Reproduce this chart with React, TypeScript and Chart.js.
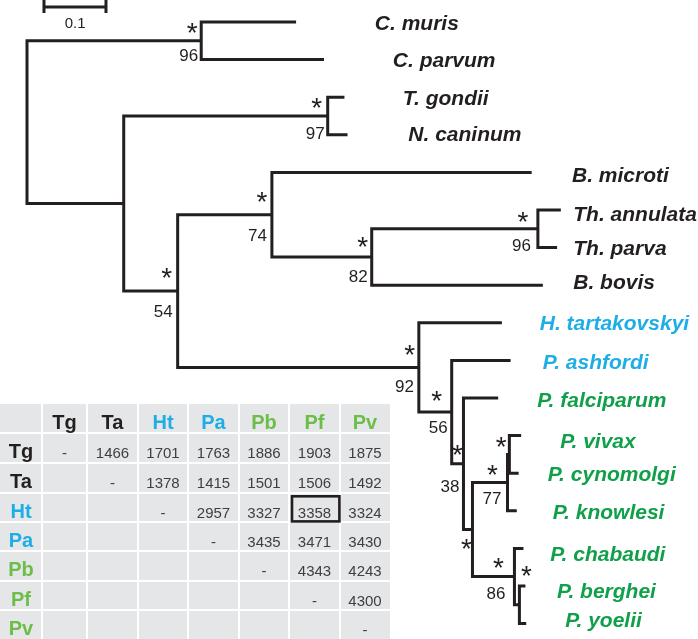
import React, { useEffect, useRef } from 'react';
import { Chart, registerables } from 'chart.js';

Chart.register(...registerables);

// ---------------- DATA ----------------
// Leaves, top to bottom
const taxa = [
  'C. muris', 'C. parvum', 'T. gondii', 'N. caninum', 'B. microti', 'Th. annulata',
  'Th. parva', 'B. bovis', 'H. tartakovskyi', 'P. ashfordi', 'P. falciparum',
  'P. vivax', 'P. cynomolgi', 'P. knowlesi', 'P. chabaudi', 'P. berghei', 'P. yoelii',
];
const taxonGroup = [
  'other', 'other', 'other', 'other', 'other', 'other', 'other', 'other',
  'haemo', 'haemo', 'plasmo', 'plasmo', 'plasmo', 'plasmo', 'plasmo', 'plasmo', 'plasmo',
];
const tipParent = [
  'crypto', 'crypto', 'coccidia', 'coccidia', 'piro', 'theileria', 'theileria', 'n6',
  'haemo', 'n9', 'n10', 'vivax', 'vivax', 'n12', 'rodent', 'by', 'by',
];
// branch lengths (substitutions / site)
const tipBranch = [
  0.153, 0.198, 0.027, 0.032, 0.419, 0.037, 0.031, 0.276,
  0.134, 0.095, 0.056, 0.019, 0.015, 0.015, 0.0145, 0.0097, 0.011,
];

// Internal nodes (parents listed before children)
const nodeIds = ['root', 'crypto', 'n2', 'coccidia', 'n4', 'piro', 'n6', 'theileria', 'haemo', 'n9', 'n10', 'n11', 'n12', 'vivax', 'rodent', 'by'];
const nodeParent = [null, 'root', 'root', 'n2', 'n2', 'n4', 'piro', 'n6', 'n4', 'haemo', 'n9', 'n10', 'n11', 'n12', 'n11', 'rodent'];
const nodeBranch = [0, 0.281, 0.156, 0.329, 0.087, 0.152, 0.161, 0.268, 0.389, 0.053, 0.019, 0.0145, 0.0565, 0.003, 0.0677, 0.008];
const nodeSupport = [null, 96, null, 97, 54, 74, 82, 96, 92, 56, 38, null, 77, null, 86, null];
const nodeStar = [false, true, false, true, true, true, true, true, true, true, true, true, true, true, true, true];

const scaleBarLength = 0.1;
const scaleBarLabel = '0.1';

// Table: pairwise values
const tableLabels = ['Tg', 'Ta', 'Ht', 'Pa', 'Pb', 'Pf', 'Pv'];
const tableGroup = ['other', 'other', 'haemo', 'haemo', 'table', 'table', 'table'];
const rowTg = ['-', 1466, 1701, 1763, 1886, 1903, 1875];
const rowTa = [null, '-', 1378, 1415, 1501, 1506, 1492];
const rowHt = [null, null, '-', 2957, 3327, 3358, 3324];
const rowPa = [null, null, null, '-', 3435, 3471, 3430];
const rowPb = [null, null, null, null, '-', 4343, 4243];
const rowPf = [null, null, null, null, null, '-', 4300];
const rowPv = [null, null, null, null, null, null, '-'];
const tableRows = [rowTg, rowTa, rowHt, rowPa, rowPb, rowPf, rowPv];
const highlightCell = ['Ht', 'Pf'];

// ---------------- LAYOUT / STYLE ----------------
const W = 698;
const H = 639;
const PX_PER_UNIT = 620;
const ROOT_PX = 27;
const TIP_TOP_PX = 22;
const TIP_STEP_PX = 37.6;
const FONT = '"Liberation Sans", Arial, Helvetica, sans-serif';
const INK = '#231f20';
const colors: Record<string, string> = {
  other: '#231f20',
  haemo: '#1eaee6',
  plasmo: '#10a04a',
  table: '#6cbe48',
};
// tip label column (tree units from root) and small vertical nudges (px)
const tipLabelX = [0.561, 0.59, 0.606, 0.615, 0.879, 0.881, 0.881, 0.881, 0.827, 0.832, 0.823, 0.86, 0.84, 0.848, 0.844, 0.855, 0.868];
const tipLabelDy = [0, 0, 0, -1, 2, 3, 0, -4, 0, 1, 1, 5, 0, 1, 5, 4, -4];
const starOffset: Record<string, [number, number]> = {
  crypto: [-9, -13], coccidia: [-11, -13], n4: [-11, -18], piro: [-10, -18], n6: [-9, -15],
  theileria: [-15, -12], haemo: [-9, -17], n9: [-15, -16], n10: [-6, -14], n11: [-6, 14],
  n12: [-15, -13], vivax: [-8, -12], rodent: [-16, -14], by: [7, -34],
};
const numOffset: Record<string, [number, number]> = {
  crypto: [-3, 14], coccidia: [-3, 17], n4: [-5, 20], piro: [-5, 20], n6: [-4, 19],
  theileria: [-7, 16], haemo: [-5, 18], n9: [-4, 15], n10: [-4, 22], n12: [-6, 15], rodent: [-9, 16],
};
const scaleBarStart = 0.0274;
const tableColEdges = [0, 42, 87, 138, 188, 239, 289, 340, 390];
const tableRowEdges = [404, 433, 463, 493, 522, 551, 581, 610, 639];

// ---------------- TREE GEOMETRY (data space) ----------------
const nodeDepth: Record<string, number> = {};
nodeIds.forEach((id, i) => {
  const p = nodeParent[i];
  nodeDepth[id] = p ? nodeDepth[p] + nodeBranch[i] : 0;
});
const tipDepth = tipParent.map((p, i) => nodeDepth[p] + tipBranch[i]);

type Pt = { x: number; y: number };
const nodeY: Record<string, number> = {};
function childrenOf(id: string): Pt[] {
  const kids: Pt[] = [];
  tipParent.forEach((p, i) => { if (p === id) kids.push({ x: tipDepth[i], y: i }); });
  nodeIds.forEach((n, i) => { if (nodeParent[i] === id) kids.push({ x: nodeDepth[n], y: computeY(n) }); });
  return kids.sort((a, b) => a.y - b.y);
}
function computeY(id: string): number {
  if (nodeY[id] !== undefined) return nodeY[id];
  const kids = childrenOf(id);
  const y = kids.reduce((s, k) => s + k.y, 0) / kids.length;
  nodeY[id] = y;
  return y;
}
nodeIds.forEach((id) => computeY(id));

const branchDatasets = nodeIds.map((id) => {
  const kids = childrenOf(id);
  const a = kids[0];
  const b = kids[kids.length - 1];
  const x = nodeDepth[id];
  return {
    data: [
      { x: a.x, y: a.y },
      { x, y: a.y },
      { x, y: b.y },
      { x: b.x, y: b.y },
    ],
    showLine: true,
    borderColor: INK,
    borderWidth: 3,
    pointRadius: 0,
    pointHoverRadius: 0,
    fill: false,
    tension: 0,
    borderJoinStyle: 'miter' as const,
    borderCapStyle: 'butt' as const,
  };
});

// ---------------- DRAW HELPERS ----------------
function drawCentered(ctx: CanvasRenderingContext2D, text: string, cx: number, cy: number) {
  ctx.textAlign = 'left';
  ctx.textBaseline = 'alphabetic';
  const m = ctx.measureText(text);
  const asc = m.actualBoundingBoxAscent;
  const desc = m.actualBoundingBoxDescent;
  const left = m.actualBoundingBoxLeft;
  const right = m.actualBoundingBoxRight;
  ctx.fillText(text, cx - (right - left) / 2, cy + (asc - desc) / 2);
}

const decorPlugin = {
  id: 'treeDecor',
  afterDatasetsDraw(chart: any) {
    const ctx: CanvasRenderingContext2D = chart.ctx;
    const xs = chart.scales.x;
    const ys = chart.scales.y;
    ctx.save();

    // tip labels
    taxa.forEach((name, i) => {
      const size = 21;
      ctx.font = `italic bold ${size}px ${FONT}`;
      ctx.fillStyle = colors[taxonGroup[i]];
      ctx.textAlign = 'left';
      ctx.textBaseline = 'alphabetic';
      const px = xs.getPixelForValue(tipLabelX[i]);
      const py = ys.getPixelForValue(i) + tipLabelDy[i];
      ctx.fillText(name, px, py + size * 0.358);
    });

    // support values and stars
    nodeIds.forEach((id, i) => {
      const nx = xs.getPixelForValue(nodeDepth[id]);
      const ny = ys.getPixelForValue(nodeY[id]);
      ctx.fillStyle = INK;
      if (nodeStar[i] && starOffset[id]) {
        ctx.font = `normal 28px ${FONT}`;
        const [dx, dy] = starOffset[id];
        drawCentered(ctx, '*', nx + dx, ny + dy);
      }
      const s = nodeSupport[i];
      if (s !== null && numOffset[id]) {
        const size = 17;
        ctx.font = `normal ${size}px ${FONT}`;
        const [dx, dy] = numOffset[id];
        ctx.textAlign = 'right';
        ctx.textBaseline = 'alphabetic';
        ctx.fillText(String(s), nx + dx, ny + dy + size * 0.358);
      }
    });

    // scale bar
    const sx0 = xs.getPixelForValue(scaleBarStart);
    const sx1 = xs.getPixelForValue(scaleBarStart + scaleBarLength);
    ctx.strokeStyle = INK;
    ctx.lineWidth = 3;
    ctx.lineCap = 'butt';
    ctx.beginPath();
    ctx.moveTo(sx0, -2); ctx.lineTo(sx0, 13);
    ctx.moveTo(sx1, -2); ctx.lineTo(sx1, 13);
    ctx.moveTo(sx0, 7); ctx.lineTo(sx1, 7);
    ctx.stroke();
    ctx.font = `normal 15px ${FONT}`;
    ctx.fillStyle = INK;
    drawCentered(ctx, scaleBarLabel, (sx0 + sx1) / 2, 23);

    // table
    const cx = tableColEdges;
    const ry = tableRowEdges;
    ctx.fillStyle = '#e5e6e7';
    ctx.fillRect(cx[0], ry[0], cx[cx.length - 1] - cx[0], ry[ry.length - 1] - ry[0]);
    ctx.fillStyle = '#ffffff';
    for (let c = 1; c < cx.length - 1; c++) ctx.fillRect(cx[c] - 1, ry[0], 2, ry[ry.length - 1] - ry[0]);
    for (let r = 1; r < ry.length - 1; r++) ctx.fillRect(cx[0], ry[r] - 1, cx[cx.length - 1] - cx[0], 2);

    const labelSize = 20;
    // header row
    tableLabels.forEach((lab, j) => {
      ctx.font = `bold ${labelSize}px ${FONT}`;
      ctx.fillStyle = colors[tableGroup[j]];
      ctx.textAlign = 'center';
      ctx.textBaseline = 'alphabetic';
      const mx = (cx[j + 1] + cx[j + 2]) / 2;
      const my = (ry[0] + ry[1]) / 2 + 3;
      ctx.fillText(lab, mx, my + labelSize * 0.358);
    });
    // rows
    tableRows.forEach((row, r) => {
      ctx.font = `bold ${labelSize}px ${FONT}`;
      ctx.fillStyle = colors[tableGroup[r]];
      ctx.textAlign = 'center';
      ctx.textBaseline = 'alphabetic';
      const my = (ry[r + 1] + ry[r + 2]) / 2;
      ctx.fillText(tableLabels[r], (cx[0] + cx[1]) / 2, my + 3 + labelSize * 0.358);
      row.forEach((v, j) => {
        if (v === null) return;
        ctx.font = `normal 15px ${FONT}`;
        ctx.fillStyle = '#3f3f41';
        ctx.fillText(String(v), (cx[j + 1] + cx[j + 2]) / 2, my + 5 + 15 * 0.358);
      });
    });
    // highlighted cell
    const hr = tableLabels.indexOf(highlightCell[0]);
    const hc = tableLabels.indexOf(highlightCell[1]);
    const x0 = cx[hc + 1], x1 = cx[hc + 2], y0 = ry[hr + 1], y1 = ry[hr + 2];
    ctx.strokeStyle = INK;
    ctx.lineWidth = 2.6;
    ctx.strokeRect(x0 + 3, y0 + 3.3, x1 - x0 - 3.6, y1 - y0 - 3.9);

    ctx.restore();
  },
};

export default function App() {
  const ref = useRef<HTMLCanvasElement | null>(null);
  useEffect(() => {
    if (!ref.current) return;
    const chart = new Chart(ref.current, {
      type: 'scatter',
      data: { datasets: branchDatasets as any },
      options: {
        animation: false,
        responsive: false,
        devicePixelRatio: 1,
        events: [],
        layout: { padding: 0 },
        plugins: { legend: { display: false }, tooltip: { enabled: false } },
        scales: {
          x: { type: 'linear', display: false, min: -ROOT_PX / PX_PER_UNIT, max: (W - ROOT_PX) / PX_PER_UNIT },
          y: { type: 'linear', display: false, reverse: true, min: -TIP_TOP_PX / TIP_STEP_PX, max: (H - TIP_TOP_PX) / TIP_STEP_PX },
        },
      },
      plugins: [decorPlugin],
    });
    return () => chart.destroy();
  }, []);
  return (
    <div style={{ position: 'absolute', left: 0, top: 0, width: W, height: H, background: '#fff' }}>
      <canvas ref={ref} width={W} height={H} style={{ display: 'block', width: W, height: H }} />
    </div>
  );
}
